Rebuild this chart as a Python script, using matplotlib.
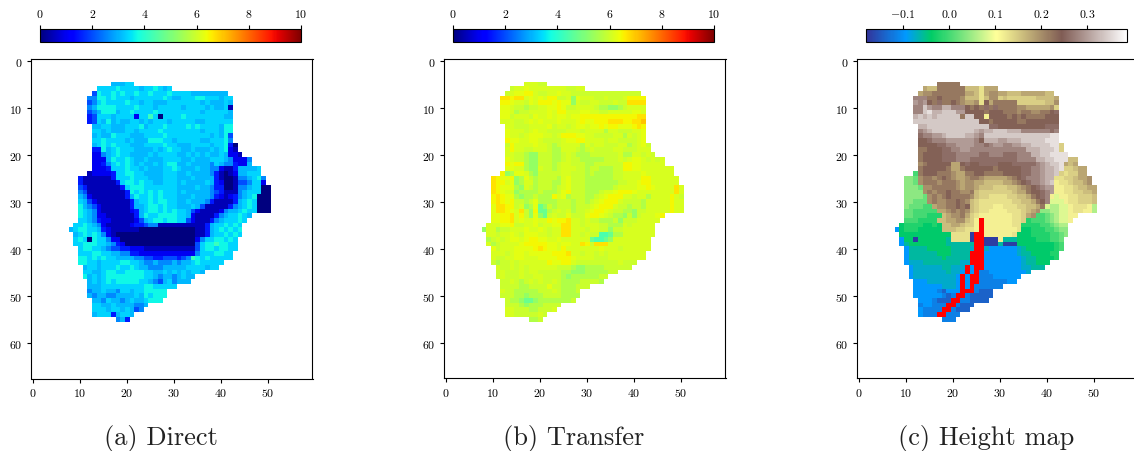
import numpy as np
import matplotlib
matplotlib.use("Agg")
import matplotlib.pyplot as plt
from matplotlib.colors import ListedColormap

plt.rcParams['font.family'] = 'cmr10'
plt.rcParams['mathtext.fontset'] = 'cm'
plt.rcParams['axes.formatter.use_mathtext'] = True
plt.rcParams['axes.unicode_minus'] = False

# valores, celula a celula, a partir da linha 5 (grupos de 10 colunas)
direct_levels = dict(zip("0123456789", [0.0, 0.5, 1.0, 1.5, 2.0, 2.6, 3.05, 3.35, 3.7, 4.2]))
transfer_levels = dict(zip("0123456789", [4.4, 4.8, 5.3, 5.65, 5.95, 6.1, 6.25, 6.45, 6.7, 7.0]))
height_levels = dict(zip("aBbcdefghijklmnopqrstuvwxyz",
                         [-0.17, -0.14, -0.115, -0.095, -0.075, -0.06, -0.04, -0.02, 0.0, 0.02, 0.04, 0.06,
                          0.085, 0.115, 0.13, 0.145, 0.16, 0.18, 0.20, 0.22, 0.24, 0.26, 0.28, 0.30, 0.32, 0.34, 0.36]))

first_row = 5

direct_rows = [
    ".......... .......666 77",
    ".......... ....777787 7776778767",
    ".......... ...4877878 7787787778 7777666666 66",
    ".......... ..55887877 7677777787 6677788777 677",
    ".......... ..45787777 8776776667 7777776766 676",
    ".......... ..56888877 7787776777 7767777676 671",
    ".......... ..45688867 7877778777 7777776777 776",
    ".......... ..34777677 7727797077 7787777777 766",
    ".......... ..34768676 6776767776 7777766777 777",
    ".......... ...6677666 7778677787 7778787777 688",
    ".......... ...7767666 7767777877 7777776777 688",
    ".......... ...6766877 7666777787 7777777767 684",
    ".......... ...7787777 6766688877 6777776677 785",
    ".......... ...6787877 7666777787 7666777767 7830",
    ".......... ...3386787 7766667678 7766766676 7821",
    ".......... ...2256787 7666676777 7667676766 76221",
    ".......... ...2226877 8766766677 7766766677 7652225",
    ".......... ...2235787 8767667678 8667666657 6553226",
    ".......... ...2223777 8776766677 8766676655 211366667",
    ".......... ..12222377 8877666677 7667666653 101266777",
    ".......... 3111111377 7877766677 7666766663 1001556785",
    ".......... 3111111137 8878776677 7676666763 2001445772",
    ".......... 4311111113 7888777777 7666676653 3001556770 0",
    ".......... 5411111111 3878787877 7676666654 3111567770 0",
    ".......... 6521111111 3687787877 7666766653 2123567800 0",
    ".......... 7642111111 1367787887 7667666531 1113678700 0",
    ".......... 8654211111 1366788787 7666764111 1135678700 0",
    ".......... 8765211111 1236788787 8776421111 2566787700 0",
    ".......... 8765221111 1136877888 8776211113 5677876",
    ".......... 7765322111 1124678878 8774211135 677787",
    ".........7 7876521111 1233455111 1111111367 78787",
    "........67 8877632111 1110000000 0000011367 87878",
    ".........6 7878752100 0000000000 0000011367 78787",
    ".........7 8708775220 0000000000 0000025778 8787",
    ".........7 7888776532 0000000000 0000047889 8877",
    ".......... 7887765443 3222111111 1111147887 8877",
    ".......... 7778877665 5332222222 2222257778 877",
    ".......... 8878787766 6655443344 4345987877 777",
    ".......... 8877677778 8776556555 6566787777 7",
    ".......... .677677787 7876655566 6667777677",
    ".......... .776678877 8888776676 7676776",
    ".......... .867678888 8888776566 56766",
    ".......... ..67678788 8887765467 5666",
    ".......... ..66677777 7777887777 7",
    ".......... ..56676657 767788888",
    ".......... ..65665566 667687888",
    ".......... ...6657665 67667888",
    ".......... ...7766766 66556",
    ".......... ...7776776 7645",
    ".......... ...6777367 76",
    ".......... ........56 3",
]

transfer_rows = [
    ".......... .......555 44",
    ".......... ....455655 5555554455",
    ".......... ...4566775 4455655444 4444444444 44",
    ".......... ..88788565 6577445265 5544544457 777",
    ".......... ..77655465 7776766254 4554445448 888",
    ".......... ..66544344 5566764455 5543322345 555",
    ".......... ..66534455 5565775556 6554455555 665",
    ".......... ..66455546 5565665667 7777777777 788",
    ".......... ..55544565 6555655567 6677788877 889",
    ".......... ...5544455 5564554566 5667677666 787",
    ".......... ...6555456 5544445554 5555355444 556",
    ".......... ...6554566 6554577766 5544445535 456",
    ".......... ...7665566 5444456677 5555455444 456",
    ".......... ...4755556 5543455553 5455444553 4564",
    ".......... ...5755445 5543355543 4544445544 4555",
    ".......... ...5544322 4443345433 3444444533 55454",
    ".......... ...6544322 4443345443 3333444545 6654545",
    ".......... ...7677322 4443455444 3344444477 6655555",
    ".......... ...6655322 5443455544 3443334477 665555555",
    ".......... ..72366532 4444455444 3433334455 556555555",
    ".......... 8766723643 4444356444 3333334455 5577555555",
    ".......... 8775623553 4443356444 3333333445 5677555555",
    ".......... 8766632543 4443456444 3333334555 5667655558 5",
    ".......... 8765523333 4333467444 3334556777 6555555558 5",
    ".......... 7876632334 3337563444 3345677755 4553555575 4",
    ".......... 7876744346 3333444344 3456777544 4435555575 5",
    ".......... 6887745236 1243444344 4567775443 4435555575 5",
    ".......... 6887658427 1134545344 5677654433 2445555575 5",
    ".......... 6677857426 2145446444 6776543324 2455567",
    ".......... 6677856556 5576778554 5443334244 455555",
    ".........5 5566744556 4556688554 5554433354 55555",
    "........25 5344555655 6545588555 4554424455 55555",
    ".........5 5455654666 5545588554 5440013355 55555",
    ".........3 4545665677 6655655555 5100125555 5555",
    ".........5 3455556777 7766566558 7488855555 5555",
    ".......... 6455566667 8766575555 5556555455 5555",
    ".......... 5554566566 6667778554 5545455555 555",
    ".......... 5445566555 6666777655 5544455555 555",
    ".......... 4344545555 5576677544 4444444544 4",
    ".......... .544545455 5555444322 3333444444",
    ".......... .454445455 4444433222 3333344",
    ".......... .454445445 5444432333 33344",
    ".......... ..44543454 5445433334 4443",
    ".......... ..44443344 4464433344 4",
    ".......... ..54433333 444543334",
    ".......... ..44433233 344443333",
    ".......... ...4332112 33333334",
    ".......... ...4443233 34444",
    ".......... ...5544433 4445",
    ".......... ...5544444 54",
    ".......... ........33 4",
]

height_rows = [
    ".......... .......sss ss",
    ".......... ....qppsss ssspppnqqq",
    ".......... ...qrrssss sssqqpnqrr qqpppqqqqq pp",
    ".......... ..vvvsstss ssrpppnprr opoooooopp ppq",
    ".......... ..wvwtsuss tsrqqrntqs ssssoooooo ppr",
    ".......... ..vvywvvxx vvvtstsusu ssssrrqqqq qro",
    ".......... ..vvyzxxyy ywwttttstt tsssrssrrs stu",
    ".......... ..xyxyxyyy yysyyttmtt ttststssss ttt",
    ".......... ..yyyyyyyy yyyyyyttst ttttsstttt ttt",
    ".......... ...xxyyyyy yyyyyyyyuu tttttttttt uuu",
    ".......... ...vwxyyyy yyyyyxwxxy yyxxxvvvvv vuv",
    ".......... ...uvvwwxy yyyxxwvyyy yyyyyyyyyy yzz",
    ".......... ...ttuvvvw wwwwwvtxxx wwxxxyyyyy zzz",
    ".......... ...ttttuuv vwwwwvvuvw wvvwwxxyyy yzzo",
    ".......... ...sstttuu vvwwvvvvvv vvvvvvxxxy yyzo",
    ".......... ...sttttuu uvvvvvuuvv vuuuvvvxxy yzzzz",
    ".......... ...sttttuu uvvvuuuuuu uuuuvvvvxx yyzzzpp",
    ".......... ...rsttttt qqtuttuuuu tttuuuuuvw xyyzqpq",
    ".......... ...sttttts qqstttttts tttttuuvvw xxyzoopqq",
    ".......... ..hstttsss rqqssttsss sttttuuvvw xxyonooqq",
    ".......... jjirssrsts rqqrssrqqq qqrstuvvvw xxnnoopqqr",
    ".......... jjirsssrss srqrrqqppp pqqrstuvvw xymnnoppqr",
    ".......... jjjirrssss srqrrqpppo ooppqrstuv wwmmnnoppq q",
    ".......... jjjjrsrsst ssrrspoooo ooopqqsttu vwmmnnoopp q",
    ".......... jjjjirsrst ssssrpoonn nnooppqstu vmlmmnnooo p",
    ".......... jjiiirsrrs stsrponnnn nnnooppqst vlllmnnooo p",
    ".......... jiiihhqrrs ststponnnm mnnnooppqs lkkllmnnnm k",
    ".......... iihhhhhqqr srsrponnmm mmnnnopqrj jkkllmnnmm k",
    ".......... iihhhgggpq rrsqonmmmm mmmnnoqrhh ijkllmm",
    ".......... hhhggggppq qrrpommmmm mmmnnoghhh ijkllm",
    ".........f ggggffgfpp qqpoommmmm mmmnnggggh hijkk",
    "........cf gggfffffpp poonnmmmmm mmmmnffggg hhijj",
    ".........f ffffffffff nnnnammmmm mmmnfffggg ghhij",
    ".........c ffaffffffe nnnnaeeaaa meeeffffgg ghhi",
    ".........c effffffffe eeeeeeeaaa eaaaffffff ffgh",
    ".......... ceeeefffff eeeedeedcc ccccdeffff ffgh",
    ".......... ceeeeeefff eeeeeeeccc ccccdeefff fgg",
    ".......... ceeeeeeefe eeeedccccc cccccdeeff ffg",
    ".......... cdddeeeeee eeddcccccc cccccdeeff f",
    ".......... .cddddddee dddccccccc cccccddeee",
    ".......... .cddddddde ddccccbbcc ccccccd",
    ".......... .cdddddddd dccccbbbbc ccccc",
    ".......... ..cccddddd dcccccbbbb bbcc",
    ".......... ..ccccccdd dccccbbbbb b",
    ".......... ..cccccbBc ccccbbBBB",
    ".......... ..ccccccbB bccbBBBBB",
    ".......... ...cccbBBB bbbbBBBB",
    ".......... ...bccbbbB bbBBB",
    ".......... ...cbbbbbb bBBB",
    ".......... ...cbbbbbb bb",
    ".......... ........bb b",
]

# caminho vermelho sobre o mapa de altura: (linha, coluna)
path_rows = [34, 35, 36, 37, 37, 38, 38, 39, 39, 40, 40, 41, 41, 41, 42, 42, 42, 43, 43, 43,
             44, 44, 44, 45, 45, 46, 46, 46, 47, 47, 47, 48, 48, 49, 49, 49, 50, 50, 51, 51,
             52, 52, 53, 53, 54, 54]
path_cols = [26, 26, 26, 25, 26, 25, 26, 25, 26, 25, 26, 24, 25, 26, 24, 25, 26, 24, 25, 26,
             23, 25, 26, 23, 25, 22, 24, 25, 22, 24, 25, 22, 24, 22, 23, 24, 21, 22, 20, 21,
             19, 20, 18, 19, 17, 18]

captions = ["(a) Direct", "(b) Transfer", "(c) Height map"]


def ler_grade(linhas, niveis):
    grade = np.full((68, 60), np.nan)
    for i, linha in enumerate(linhas):
        for j, c in enumerate(linha.replace(" ", "")):
            if c != ".":
                grade[first_row + i, j] = niveis[c]
    return grade


W, H = 1134, 452
fig = plt.figure(figsize=(W / 100, H / 100), dpi=100)

ax_left = [30.5, 443.5, 856.5]
cb_left = [40, 453, 866]
cap_x = [161, 574, 986]

grades = [ler_grade(direct_rows, direct_levels),
          ler_grade(transfer_rows, transfer_levels),
          ler_grade(height_rows, height_levels)]
cmaps = ["jet", "jet", "terrain"]
limites = [(0, 10), (0, 10), (-0.18, 0.387)]
cb_ticks = [[0, 2, 4, 6, 8, 10], [0, 2, 4, 6, 8, 10], [-0.1, 0.0, 0.1, 0.2, 0.3]]

for i in range(3):
    ax = fig.add_axes([ax_left[i] / W, 1 - 379.5 / H, 282 / W, 319.6 / H])
    im = ax.imshow(grades[i], cmap=cmaps[i], vmin=limites[i][0], vmax=limites[i][1], aspect="equal")
    ax.set_xticks(range(0, 60, 10))
    ax.set_yticks(range(0, 70, 10))
    ax.tick_params(labelsize=8.5, length=3, width=0.8, pad=2.5)

    cax = fig.add_axes([cb_left[i] / W, 1 - 42.5 / H, 261 / W, 13 / H])
    cb = fig.colorbar(im, cax=cax, orientation="horizontal", ticks=cb_ticks[i])
    cax.xaxis.set_ticks_position("top")
    cax.tick_params(labelsize=8.5, length=3, width=0.8, pad=3.5)

    fig.text(cap_x[i] / W, 1 - 445 / H, captions[i], fontsize=19, ha="center", va="baseline", color="#222222")

    if i == 2:
        caminho = np.full((68, 60), np.nan)
        caminho[path_rows, path_cols] = 1
        ax.imshow(caminho, cmap=ListedColormap(["red"]), aspect="equal")

fig.savefig("out.png", dpi=100)
